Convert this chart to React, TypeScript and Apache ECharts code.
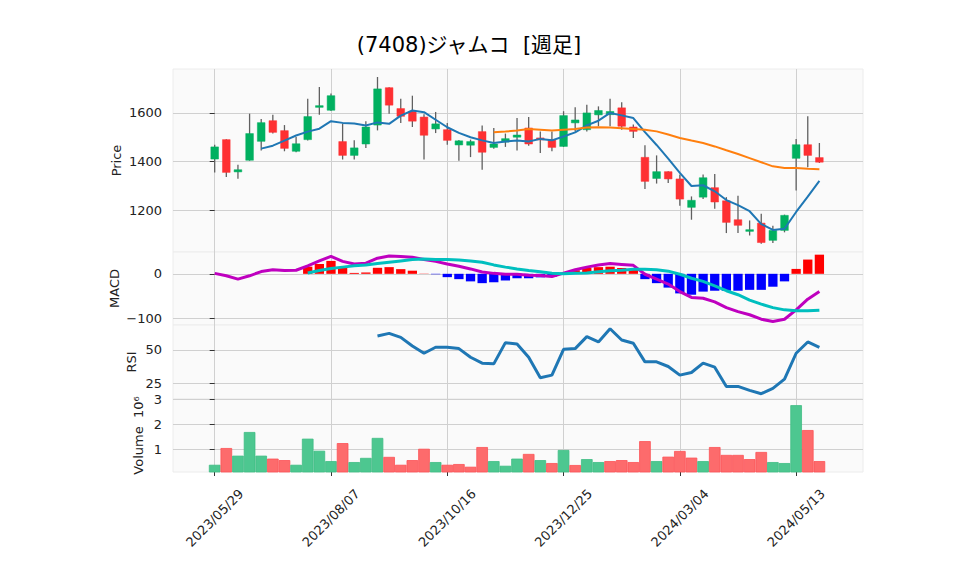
import React, { useEffect, useRef } from 'react';
import * as echarts from 'echarts';

const dates = [
  '2023/05/29', '2023/06/05', '2023/06/12', '2023/06/19', '2023/06/26', '2023/07/03', '2023/07/10', '2023/07/17', '2023/07/24', '2023/07/31',
  '2023/08/07', '2023/08/14', '2023/08/21', '2023/08/28', '2023/09/04', '2023/09/11', '2023/09/18', '2023/09/25', '2023/10/02', '2023/10/09',
  '2023/10/16', '2023/10/23', '2023/10/30', '2023/11/06', '2023/11/13', '2023/11/20', '2023/11/27', '2023/12/04', '2023/12/11', '2023/12/18',
  '2023/12/25', '2024/01/01', '2024/01/08', '2024/01/15', '2024/01/22', '2024/01/29', '2024/02/05', '2024/02/12', '2024/02/19', '2024/02/26',
  '2024/03/04', '2024/03/11', '2024/03/18', '2024/03/25', '2024/04/01', '2024/04/08', '2024/04/15', '2024/04/22', '2024/04/29', '2024/05/06',
  '2024/05/13', '2024/05/20', '2024/05/27',
];

const openP = [1410, 1490, 1357, 1405, 1483, 1568, 1527, 1442, 1490, 1623, 1611, 1482, 1425, 1472, 1550, 1704, 1618, 1607, 1583, 1534, 1531, 1468, 1467, 1523, 1458, 1480, 1500, 1538, 1497, 1490, 1462, 1559, 1531, 1592, 1593, 1621, 1542, 1417, 1330, 1358, 1328, 1211, 1253, 1292, 1238, 1160, 1112, 1146, 1075, 1116, 1413, 1469, 1416];
const closeP = [1460, 1355, 1366, 1515, 1560, 1520, 1454, 1473, 1585, 1630, 1671, 1425, 1456, 1542, 1699, 1632, 1586, 1566, 1508, 1555, 1487, 1485, 1482, 1438, 1472, 1494, 1509, 1472, 1489, 1458, 1589, 1571, 1600, 1610, 1606, 1545, 1524, 1318, 1358, 1328, 1245, 1240, 1333, 1233, 1149, 1137, 1119, 1066, 1116, 1178, 1469, 1425, 1397];
const highP = [1469, 1492, 1386, 1597, 1575, 1592, 1550, 1501, 1658, 1707, 1680, 1556, 1487, 1566, 1748, 1706, 1658, 1671, 1595, 1604, 1559, 1488, 1490, 1548, 1538, 1515, 1579, 1583, 1524, 1524, 1607, 1623, 1634, 1627, 1658, 1644, 1552, 1467, 1425, 1360, 1346, 1256, 1346, 1348, 1253, 1259, 1157, 1185, 1135, 1181, 1493, 1586, 1476];
const lowP = [1355, 1336, 1329, 1403, 1445, 1515, 1442, 1438, 1486, 1593, 1608, 1408, 1408, 1456, 1528, 1597, 1559, 1542, 1408, 1517, 1469, 1403, 1418, 1366, 1452, 1460, 1445, 1465, 1435, 1442, 1460, 1524, 1524, 1545, 1545, 1531, 1497, 1287, 1309, 1311, 1218, 1160, 1245, 1205, 1105, 1105, 1095, 1061, 1064, 1108, 1280, 1376, 1394];

const ma5: (number | null)[] = [null, null, null, null,
  1453, 1465, 1486, 1507, 1523, 1535,
  1566, 1559, 1556, 1548, 1561, 1555, 1589, 1610, 1603, 1572,
  1541, 1518, 1500, 1487, 1476, 1482, 1486, 1482, 1493, 1487,
  1503, 1520, 1549, 1568, 1600, 1590, 1579, 1521, 1468, 1412,
  1353, 1299, 1302, 1277, 1241, 1220, 1195, 1142, 1118, 1123,
  1192, 1255, 1320];
const ma25: (number | null)[] = [...Array(24).fill(null),
  1520, 1523, 1528, 1534, 1531, 1528, 1531, 1534, 1540, 1541, 1540, 1537, 1534, 1531, 1524, 1511,
  1497, 1486, 1476, 1462, 1446, 1431, 1414, 1397, 1380, 1373, 1373, 1370, 1368];

const macdLine = [1, -4.5, -12, -4.5, 5, 9, 7.5, 8, 18, 29,
  39, 28, 22, 24, 35, 40, 39, 37, 32, 28,
  22, 17, 11, 4, 1, -1, -1, -3, -4, -6,
  1.5, 9, 15, 20, 23, 21, 19, -1, -12, -23,
  -40, -53, -55, -63, -76, -85, -92, -102, -107, -102,
  -81, -57, -40];
const signalLine: (number | null)[] = [...Array(8).fill(null),
  2, 7.5, 12, 15, 18, 20, 23, 26, 29, 32,
  33, 32, 32, 31, 29, 26, 20, 15, 11, 7.5, 4.5, 1.5,
  0, 1, 2, 4.5, 7, 8, 10, 10, 9, 6,
  -1, -10, -17, -27, -38, -47, -59, -68, -76, -81,
  -83, -83, -82];
const macdHist: (number | null)[] = [...Array(8).fill(null),
  16, 22, 29, 13, 2, 3, 13.5, 15, 10.5, 7,
  0.5, -1, -7.5, -12, -17, -21, -19, -15, -10, -10, -8, -7,
  1.5, 8, 13, 15, 16, 13, 9, -12, -21, -31,
  -44, -47, -40, -38, -38, -38, -36, -36, -29, -17,
  11, 32, 43];
const rsi: (number | null)[] = [...Array(14).fill(null),
  60.5, 62.5, 59.5, 53, 47.5, 52, 52, 51, 44.5, 40, 39.5,
  55.5, 54.5, 44.5, 29, 31, 50.5, 51, 60, 56, 66,
  57.5, 55, 41, 41, 37.5, 31, 33, 40, 37, 22.5,
  22.5, 19.5, 17, 21, 28, 47.5, 56, 52];

const volumeM = [0.36, 1.04, 0.73, 1.69, 0.73, 0.61, 0.55, 0.36, 1.42, 0.93,
  0.51, 1.24, 0.47, 0.64, 1.45, 0.68, 0.36, 0.55, 1.01, 0.47,
  0.36, 0.39, 0.28, 1.08, 0.51, 0.32, 0.61, 0.80, 0.55, 0.43,
  0.96, 0.35, 0.59, 0.47, 0.51, 0.55, 0.47, 1.32, 0.51, 0.69,
  0.92, 0.65, 0.51, 1.08, 0.76, 0.76, 0.59, 0.88, 0.47, 0.43,
  2.78, 1.77, 0.51];

const dateTickIdx = [0, 10, 20, 30, 40, 50];
const priceTicks = [1200, 1400, 1600];
const macdTicks = [-100, 0];
const rsiTicks = [25, 50];
const volTicks = [1, 2, 3];

const UP = '#00b060';
const DOWN = '#fe3032';
const WICK = '#606060';
const VUP = '#4dc790';
const VDOWN = '#fd6b6c';
const FONT = "'DejaVu Sans', 'Noto Sans CJK JP', sans-serif";

const XMIN = -3.585;
const XMAX = 55.75;
const GL = 173;
const GR = 95;

function pairs(arr: (number | null)[]) {
  const out: [number, number][] = [];
  arr.forEach((v, i) => { if (v != null) out.push([i, v]); });
  return out;
}

export default function App() {
  const ref = useRef<HTMLDivElement>(null);
  useEffect(() => {
    if (!ref.current) return;
    const chart = echarts.init(ref.current, null, { renderer: 'svg' });

    const grids = [
      { top: 69, height: 183 },
      { top: 252, height: 73 },
      { top: 325, height: 74 },
      { top: 399, height: 73 },
    ].map((g) => ({
      ...g, left: GL, right: GR, show: true, backgroundColor: '#fafafa',
      borderColor: '#ececec', borderWidth: 1,
    }));

    const xAxes = [0, 1, 2, 3].map((gi) => ({
      type: 'value', gridIndex: gi, min: XMIN, max: XMAX,
      axisLine: { show: false },
      axisTick: { show: gi === 3, customValues: dateTickIdx, length: 4, lineStyle: { color: '#333' } },
      axisLabel: {
        show: gi === 3, customValues: dateTickIdx, rotate: 45, align: 'center', verticalAlign: 'middle',
        margin: 46, fontSize: 13, fontFamily: FONT, color: '#222',
        formatter: (v: number) => dates[Math.round(v)] ?? '',
      },
      splitLine: { show: true, lineStyle: { color: '#d0d0d0', width: 1 } },
    }));

    const yAxis = (gi: number, min: number, max: number, ticks: number[], name: string, nameGap: number) => ({
      type: 'value', gridIndex: gi, min, max, position: 'left',
      axisLine: { show: false },
      axisTick: { show: true, customValues: ticks, length: 5, lineStyle: { color: '#333' } },
      axisLabel: {
        customValues: ticks, color: '#222', fontSize: 13, fontFamily: FONT, margin: 11,
        formatter: (v: number) => String(v).replace('-', '\u2212'),
      },
      splitLine: { show: true, lineStyle: { color: '#d0d0d0', width: 1 } },
      name, nameLocation: 'middle', nameRotate: 90, nameGap, nameMoveOverlap: false,
      nameTextStyle: { color: '#222', fontSize: 13, fontFamily: FONT },
    });

    const candleData = dates.map((_, i) => [i, openP[i], closeP[i], lowP[i], highP[i]]);
    const volData = volumeM.map((v, i) => {
      const up = i === 0 ? closeP[i] >= openP[i] : closeP[i] >= closeP[i - 1];
      return {
        value: [i, v],
        itemStyle: { color: up ? VUP : VDOWN, borderColor: up ? '#3fbd84' : '#fc5256', borderWidth: 0.8 },
      };
    });

    chart.setOption({
      animation: false,
      graphic: [{
        type: 'text', x: 469, y: 45,
        style: { text: '(7408)ジャムコ  [週足]', fontSize: 21, fontFamily: FONT, fill: '#000', align: 'center', verticalAlign: 'middle' },
      }],
      grid: grids,
      xAxis: xAxes,
      yAxis: [
        yAxis(0, 1027, 1781, priceTicks, 'Price', 50),
        yAxis(1, -115, 49, macdTicks, 'MACD', 52),
        yAxis(2, 13, 68.8, rsiTicks, 'RSI', 35),
        yAxis(3, 0.067, 3.03, volTicks, 'Volume  10\u2076', 28),
      ],
      series: [
        {
          type: 'custom', xAxisIndex: 0, yAxisIndex: 0, data: candleData, encode: { x: 0, y: [1, 2, 3, 4] }, z: 2,
          renderItem: (params: any, api: any) => {
            const x = api.value(0);
            const o = api.value(1), c = api.value(2), l = api.value(3), h = api.value(4);
            const pO = api.coord([x, o]);
            const pC = api.coord([x, c]);
            const pL = api.coord([x, l]);
            const pH = api.coord([x, h]);
            const w = api.size([1, 0])[0] * 0.66;
            const col = c >= o ? UP : DOWN;
            const top = Math.min(pO[1], pC[1]);
            const bh = Math.max(Math.abs(pO[1] - pC[1]), 1.2);
            return {
              type: 'group',
              children: [
                { type: 'line', shape: { x1: pH[0], y1: pH[1], x2: pL[0], y2: pL[1] }, style: { stroke: WICK, lineWidth: 1.3 } },
                { type: 'rect', shape: { x: pO[0] - w / 2, y: top, width: w, height: bh }, style: { fill: col, stroke: col, lineWidth: 0.5 } },
              ],
            };
          },
        },
        {
          type: 'line', xAxisIndex: 0, yAxisIndex: 0, data: pairs(ma5), showSymbol: false, z: 3,
          lineStyle: { color: '#1f77b4', width: 2 },
        },
        {
          type: 'line', xAxisIndex: 0, yAxisIndex: 0, data: pairs(ma25), showSymbol: false, z: 3,
          lineStyle: { color: '#ff7f0e', width: 2 },
        },
        {
          type: 'bar', xAxisIndex: 1, yAxisIndex: 1, data: pairs(macdHist), barWidth: 9.3, z: 2,
          itemStyle: { color: (p: any) => (p.value[1] >= 0 ? '#ff0000' : '#0000ff') },
        },
        {
          type: 'line', xAxisIndex: 1, yAxisIndex: 1, data: pairs(macdLine), showSymbol: false, z: 3,
          lineStyle: { color: '#bf00bf', width: 3 },
        },
        {
          type: 'line', xAxisIndex: 1, yAxisIndex: 1, data: pairs(signalLine), showSymbol: false, z: 3,
          lineStyle: { color: '#00bfbf', width: 3 },
        },
        {
          type: 'line', xAxisIndex: 2, yAxisIndex: 2, data: pairs(rsi), showSymbol: false, z: 3,
          lineStyle: { color: '#1f77b4', width: 3 },
        },
        {
          type: 'bar', xAxisIndex: 3, yAxisIndex: 3, data: volData, barWidth: 11.6, z: 2,
        },
      ],
    });
    return () => chart.dispose();
  }, []);
  return <div ref={ref} style={{ position: 'absolute', left: 0, top: 0, width: 958, height: 575 }} />;
}
